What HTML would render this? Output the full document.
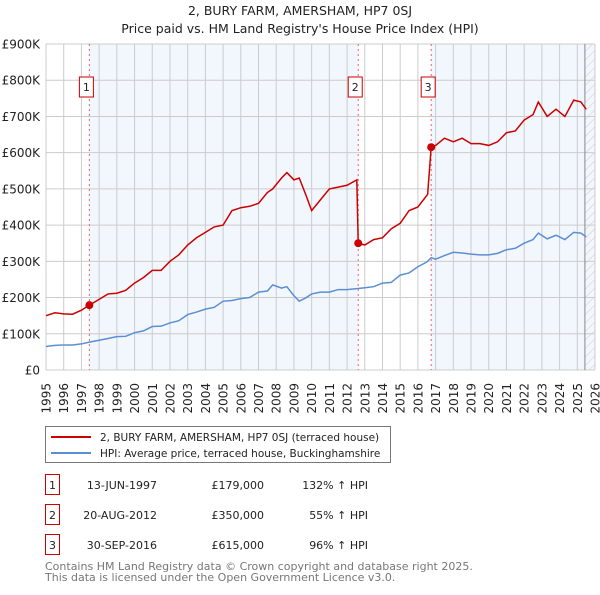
<!DOCTYPE html>
<html><head><meta charset="utf-8"><style>
body{margin:0;background:#fff;font-family:"Liberation Sans","DejaVu Sans",sans-serif;}
svg text{font-family:"DejaVu Sans","Liberation Sans",sans-serif;}
</style></head><body>
<svg id="c" width="600" height="590" xmlns="http://www.w3.org/2000/svg">
<defs><pattern id="hatch" width="6" height="6" patternUnits="userSpaceOnUse" patternTransform="rotate(45)"><line x1="0" y1="0" x2="0" y2="6" stroke="#ccc" stroke-width="1"/></pattern></defs>
<text x="300" y="15" text-anchor="middle" font-size="12.5" fill="#222">2, BURY FARM, AMERSHAM, HP7 0SJ</text>
<text x="300" y="33" text-anchor="middle" font-size="12.5" fill="#222">Price paid vs. HM Land Registry's House Price Index (HPI)</text>
<g id="plot"></g>
<g>
<rect x="45.5" y="426.5" width="345" height="36" fill="#fff" stroke="#777"/>
<line x1="51" y1="437" x2="91" y2="437" stroke="#cc0000" stroke-width="2"/>
<text x="100" y="441" font-size="10.5" fill="#222">2, BURY FARM, AMERSHAM, HP7 0SJ (terraced house)</text>
<line x1="51" y1="453" x2="91" y2="453" stroke="#5b8fd4" stroke-width="2"/>
<text x="100" y="457" font-size="10.5" fill="#222">HPI: Average price, terraced house, Buckinghamshire</text>
</g>
<g id="table" font-size="11" fill="#222"></g>
<text x="45" y="570" font-size="11" fill="#777">Contains HM Land Registry data © Crown copyright and database right 2025.</text>
<text x="45" y="581" font-size="11" fill="#777">This data is licensed under the Open Government Licence v3.0.</text>
</svg>
<script>
const hpiYears=[1995,1995.5,1996,1996.5,1997,1997.45,1998,1998.5,1999,1999.5,2000,2000.5,2001,2001.5,2002,2002.5,2003,2003.5,2004,2004.5,2005,2005.5,2006,2006.5,2007,2007.5,2007.8,2008.3,2008.6,2009.0,2009.3,2009.7,2010,2010.5,2011,2011.5,2012,2012.63,2013,2013.5,2014,2014.5,2015,2015.5,2016,2016.5,2016.75,2017,2017.5,2018,2018.5,2019,2019.5,2020,2020.5,2021,2021.5,2022,2022.5,2022.8,2023.3,2023.8,2024.3,2024.8,2025.2,2025.5];
const hpiValues=[65,68,69,69,72,77,82,87,92,93,103,108,120,121,130,136,153,160,168,173,190,192,197,200,215,218,235,226,230,205,190,200,210,215,215,222,222,225,227,230,240,242,262,268,285,298,310,306,316,325,323,320,318,318,322,332,336,350,360,378,362,372,360,380,378,368];
const priceYears=[1995,1995.5,1996,1996.5,1997,1997.45,1998,1998.5,1999,1999.5,2000,2000.5,2001,2001.5,2002,2002.5,2003,2003.5,2004,2004.5,2005,2005.5,2006,2006.5,2007,2007.5,2007.8,2008.3,2008.6,2009.0,2009.3,2009.7,2010,2010.5,2011,2011.5,2012,2012.55,2012.63,2013,2013.5,2014,2014.5,2015,2015.5,2016,2016.55,2016.75,2017,2017.5,2018,2018.5,2019,2019.5,2020,2020.5,2021,2021.5,2022,2022.5,2022.8,2023.3,2023.8,2024.3,2024.8,2025.2,2025.5];
const priceValues=[150,158,155,154,165,179,195,210,212,220,240,255,275,275,300,318,345,365,380,395,400,440,448,452,460,490,500,530,545,525,530,480,440,470,500,505,510,525,350,345,360,365,390,405,440,450,485,615,620,640,630,640,625,625,620,630,655,660,690,705,740,700,720,700,745,740,720];
const yTicks=[0,100,200,300,400,500,600,700,800,900];
const yTickLabels=["£0","£100K","£200K","£300K","£400K","£500K","£600K","£700K","£800K","£900K"];
const saleYears=[1997.45,2012.63,2016.75];
const saleValues=[179,350,615];
const saleLabels=["1","2","3"];
const saleDates=["13-JUN-1997","20-AUG-2012","30-SEP-2016"];
const salePrices=["£179,000","£350,000","£615,000"];
const salePcts=["132% ↑ HPI","55% ↑ HPI","96% ↑ HPI"];
const X0=46,X1=595,Y0=370,Y1=44,YMIN=1995,YMAX=2026,VMAX=900;
const xs=y=>X0+(y-YMIN)/(YMAX-YMIN)*(X1-X0);
const ys=v=>Y0-v/VMAX*(Y0-Y1);
const NS="http://www.w3.org/2000/svg";
const plot=document.getElementById('plot');
function mk(tag,attrs,parent){const e=document.createElementNS(NS,tag);for(const k in attrs)e.setAttribute(k,attrs[k]);(parent||plot).appendChild(e);return e;}
let r=mk('rect',{x:X0,y:Y1,width:X1-X0,height:Y0-Y1,fill:'#fff'});


r=mk('rect',{x:xs(saleYears[0]),y:Y1,width:xs(saleYears[1])-xs(saleYears[0]),height:Y0-Y1,fill:'#f2f6fd'});


r=mk('rect',{x:xs(saleYears[2]),y:Y1,width:X1-xs(saleYears[2]),height:Y0-Y1,fill:'#f2f6fd'});


r=mk('rect',{x:xs(2025.43),y:Y1,width:X1-xs(2025.43),height:Y0-Y1,fill:'url(#hatch)'});


for(let y=YMIN;y<=YMAX;y++){
 let l=mk('line',{x1:xs(y),x2:xs(y),y1:Y1,y2:Y0,stroke:'#ccc','stroke-width':1});
 
 
 let t=mk('text',{x:xs(y)+4.5,y:383,'text-anchor':'end','font-size':12,fill:'#222',transform:`rotate(-90 ${xs(y)+4.5} 383)`});
 t.textContent=y;
 
 
}
yTicks.forEach((v,i)=>{
 let l=mk('line',{x1:X0,x2:X1,y1:ys(v),y2:ys(v),stroke:'#ccc','stroke-width':1});
 
 
 let t=mk('text',{x:40,y:ys(v)+4.5,'text-anchor':'end','font-size':12,fill:'#222'});
 t.textContent=yTickLabels[i];
 
 
});
let ln=mk('line',{x1:xs(2025.43),x2:xs(2025.43),y1:Y1,y2:Y0,stroke:'#888','stroke-width':1});


saleYears.forEach((y,i)=>{
 let l=mk('line',{x1:xs(y),x2:xs(y),y1:Y1,y2:Y0,stroke:'#f06060','stroke-width':1,'stroke-dasharray':'2,3'});
 
 
});
let p=mk('polyline',{points:hpiYears.map((y,i)=>xs(y)+','+ys(hpiValues[i])).join(' '),fill:'none',stroke:'#5b8fd4','stroke-width':1.5});


p=mk('polyline',{points:priceYears.map((y,i)=>xs(y)+','+ys(priceValues[i])).join(' '),fill:'none',stroke:'#cc0000','stroke-width':1.5});


saleYears.forEach((y,i)=>{
 let c=mk('circle',{cx:xs(y),cy:ys(saleValues[i]),r:4,fill:'#cc0000'});
 
 
 let b=mk('rect',{x:xs(y)-10,y:77,width:14,height:20,fill:'#fff',stroke:'#cc0000'});
 
 
 let t=mk('text',{x:xs(y)-3,y:91,'text-anchor':'middle','font-size':11,fill:'#222'});
 t.textContent=saleLabels[i];
 
 
});
const tb=document.getElementById('table');
const rowY=[485,515,545];
saleLabels.forEach((s,i)=>{
 let b=mk('rect',{x:45.5,y:rowY[i]-10.5,width:14,height:20,fill:'#fff',stroke:'#cc0000'},tb);
 
 
 const cells=[[52.5,'middle',s],[157,'end',saleDates[i]],[264,'end',salePrices[i]],[368,'end',salePcts[i]]];
 cells.forEach(cd=>{
  let t=mk('text',{x:cd[0],y:rowY[i]+4,'text-anchor':cd[1],'font-size':11,fill:'#222'},tb);
  t.textContent=cd[2];
  
  
 });
});
</script>
</body></html>
